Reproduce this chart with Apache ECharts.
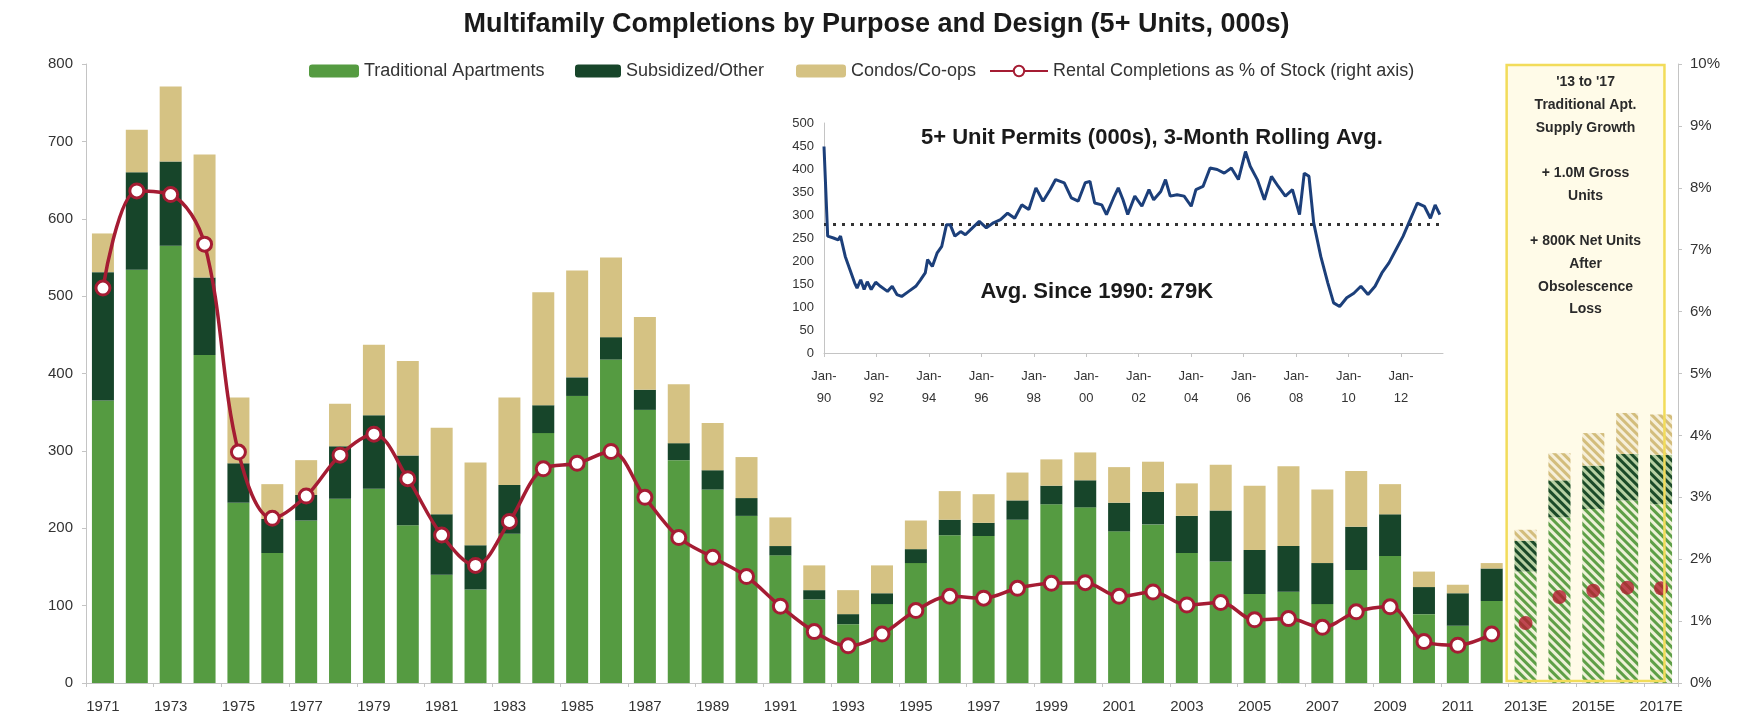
<!DOCTYPE html>
<html><head><meta charset="utf-8">
<script src="https://cdn.jsdelivr.net/npm/echarts@6/dist/echarts.min.js"></script>
<style>html,body{margin:0;padding:0;background:#fff}#c{width:1753px;height:727px}</style>
</head><body><div id="c"></div>
<script>
const years = ['1971','1972','1973','1974','1975','1976','1977','1978','1979','1980','1981','1982','1983','1984','1985','1986','1987','1988','1989','1990','1991','1992','1993','1994','1995','1996','1997','1998','1999','2000','2001','2002','2003','2004','2005','2006','2007','2008','2009','2010','2011','2012','2013E','2014E','2015E','2016E','2017E'];
const traditional = [365,534,565,424,233,168,210,238,251,204,140,121,193,323,371,418,353,288,250,216,165,108,76,102,155,191,190,211,231,227,196,205,168,157,115,118,102,146,164,89,74,106,144,214,225,236,231];
const subsidized = [166,126,109,100,51,44,33,68,95,90,78,57,63,36,24,29,26,22,25,23,12,12,13,14,18,20,17,25,24,35,37,42,48,66,57,59,53,56,54,35,42,42,40,48,56,60,64];
const condos = [50,55,97,159,85,45,45,55,91,122,112,107,113,146,138,103,94,76,61,53,37,32,31,36,37,37,37,36,34,36,46,39,42,59,83,103,95,72,39,20,11,7,14,35,42,53,52];
const rentalPct = [6.38,7.95,7.89,7.09,3.73,2.66,3.02,3.68,4.02,3.30,2.39,1.90,2.61,3.46,3.55,3.74,3.00,2.35,2.03,1.72,1.24,0.83,0.60,0.79,1.17,1.40,1.37,1.53,1.61,1.62,1.40,1.47,1.26,1.30,1.02,1.04,0.90,1.15,1.23,0.67,0.61,0.79];
const rentalPctEst = [0.97,1.39,1.49,1.54,1.53];
const leftTicks = [0,100,200,300,400,500,600,700,800];
const rightTicks = [0,1,2,3,4,5,6,7,8,9,10];
const permitYears = [1990.00,1990.14,1990.36,1990.54,1990.63,1990.81,1990.99,1991.17,1991.26,1991.40,1991.53,1991.65,1991.80,1991.97,1992.15,1992.42,1992.60,1992.78,1992.96,1993.23,1993.50,1993.68,1993.86,1993.95,1994.13,1994.31,1994.49,1994.67,1994.81,1994.99,1995.21,1995.39,1995.66,1995.92,1996.19,1996.46,1996.73,1997.00,1997.27,1997.54,1997.81,1998.08,1998.35,1998.62,1998.83,1999.16,1999.43,1999.69,1999.96,2000.14,2000.32,2000.59,2000.77,2001.04,2001.22,2001.40,2001.58,2001.85,2002.12,2002.39,2002.57,2002.84,2003.02,2003.20,2003.46,2003.73,2004.00,2004.18,2004.45,2004.72,2004.99,2005.26,2005.53,2005.80,2006.07,2006.25,2006.52,2006.79,2007.06,2007.32,2007.59,2007.86,2008.13,2008.31,2008.49,2008.67,2008.94,2009.21,2009.43,2009.66,2009.93,2010.20,2010.47,2010.74,2011.01,2011.27,2011.54,2011.81,2012.08,2012.35,2012.62,2012.89,2013.12,2013.30,2013.48];
const permitValues = [449,254,250,246,254,210,181,152,141,159,138,155,138,154,145,134,145,127,123,134,145,159,174,203,188,217,232,279,279,254,264,257,272,286,272,283,290,304,293,322,312,359,330,355,377,370,337,330,370,373,326,322,301,337,359,333,301,341,319,355,333,351,377,341,344,341,319,355,362,402,399,391,402,377,438,406,377,333,384,362,341,355,301,391,384,283,210,152,109,101,120,130,145,127,145,174,196,225,254,290,326,319,293,322,301];
const permitAvg = 279;
const boxLines = ["'13 to '17","Traditional Apt.","Supply Growth","","+ 1.0M Gross","Units","","+ 800K Net Units","After","Obsolescence","Loss"];

const nAct = rentalPct.length;
const FONT = '"Liberation Sans", Arial, sans-serif';
function decal(stripe){return {symbol:'rect',symbolSize:1,dashArrayX:[1,0],dashArrayY:[3,3],rotation:Math.PI/4,color:stripe};}
function stackData(arr, base, stripe){
  return arr.map((v,i)=> i<nAct ? v : {value:v,itemStyle:{color:base,decal:decal(stripe)}});
}
const lineData = years.map((y,i)=> i<nAct ? rentalPct[i] : null);
const estData = years.map((y,i)=> i<nAct ? null : rentalPctEst[i-nAct]);
const permitData = permitYears.map((y,i)=>[y,permitValues[i]]);

const axisCol = '#c4c4c4', txt = '#333333';
const chart = echarts.init(document.getElementById('c'));
const lg = {fontSize:18,color:txt};
const option = {
  backgroundColor:'#fff',
  animation:false,
  textStyle:{fontFamily:FONT},
  title:{text:'Multifamily Completions by Purpose and Design (5+ Units, 000s)',left:'center',top:6,
    textStyle:{fontSize:27,fontWeight:'bold',color:'#1a1a1a',fontFamily:FONT}},
  legend:[
    {data:['Traditional Apartments'],left:304,top:57,itemWidth:50,itemHeight:13,textStyle:lg},
    {data:['Subsidized/Other'],left:570,top:57,itemWidth:46,itemHeight:13,textStyle:lg},
    {data:['Condos/Co-ops'],left:791,top:57,itemWidth:50,itemHeight:13,textStyle:lg},
    {data:['Rental Completions as % of Stock (right axis)'],left:984,top:57,itemWidth:58,itemHeight:13,textStyle:lg}
  ],
  grid:[
    {left:86,right:75,top:64,bottom:44},
    {left:824,top:123,width:619,height:230}
  ],
  xAxis:[
    {type:'category',gridIndex:0,data:years,axisLine:{lineStyle:{color:axisCol}},
      axisTick:{show:true,length:4,lineStyle:{color:axisCol}},
      axisLabel:{interval:1,fontSize:15,color:txt,margin:16}},
    {type:'value',gridIndex:1,min:1990,max:2013.6,interval:2,splitLine:{show:false},
      axisLine:{show:true,lineStyle:{color:axisCol}},axisTick:{show:true,length:4,lineStyle:{color:axisCol}},
      axisLabel:{fontSize:13,color:txt,margin:12,lineHeight:22,showMaxLabel:false,
        formatter:v=> (Math.abs(v-Math.round(v))<1e-6 && Math.round(v)%2===0) ? 'Jan-\n'+String(Math.round(v)).slice(2) : ''}}
  ],
  yAxis:[
    {type:'value',gridIndex:0,min:leftTicks[0],max:leftTicks[leftTicks.length-1],interval:100,splitLine:{show:false},
      axisLine:{show:true,lineStyle:{color:axisCol}},axisTick:{show:true,length:4,lineStyle:{color:axisCol}},
      axisLabel:{fontSize:15,color:txt,margin:13}},
    {type:'value',gridIndex:0,position:'right',min:rightTicks[0],max:rightTicks[rightTicks.length-1],interval:1,splitLine:{show:false},
      axisLine:{show:true,lineStyle:{color:axisCol}},axisTick:{show:true,length:4,lineStyle:{color:axisCol}},
      axisLabel:{fontSize:15,color:txt,margin:12,formatter:'{value}%'}},
    {type:'value',gridIndex:1,min:0,max:500,interval:50,splitLine:{show:false},
      axisLine:{show:true,lineStyle:{color:axisCol}},axisTick:{show:false},
      axisLabel:{fontSize:13,color:txt,margin:10}}
  ],
  series:[
    {name:'Traditional Apartments',type:'bar',stack:'a',xAxisIndex:0,yAxisIndex:0,barWidth:22,
      itemStyle:{color:'#559b41'},data:stackData(traditional,'#eef1d8','#5e9f47'),z:2},
    {name:'Subsidized/Other',type:'bar',stack:'a',xAxisIndex:0,yAxisIndex:0,barWidth:22,
      itemStyle:{color:'#17452a'},data:stackData(subsidized,'#b7d0a3','#1b4a28'),z:2},
    {name:'Condos/Co-ops',type:'bar',stack:'a',xAxisIndex:0,yAxisIndex:0,barWidth:22,
      itemStyle:{color:'#d5c283'},data:stackData(condos,'#f6efd9','#d3bd7c'),z:2},
    {name:'Rental Completions as % of Stock (right axis)',type:'line',xAxisIndex:0,yAxisIndex:1,
      data:lineData,smooth:0.35,connectNulls:false,symbol:'circle',symbolSize:14,
      lineStyle:{color:'#a51c33',width:3.5},
      itemStyle:{color:'#fff',borderColor:'#a51c33',borderWidth:3},z:5},
    {name:'Rental Est',type:'scatter',xAxisIndex:0,yAxisIndex:1,data:estData,symbol:'circle',symbolSize:14,
      itemStyle:{color:'#b31d2f'},z:5},
    {name:'Permits',type:'line',xAxisIndex:1,yAxisIndex:2,data:permitData,showSymbol:false,symbol:'none',
      lineStyle:{color:'#1c3f7a',width:3},z:6,
      markLine:{silent:true,symbol:'none',label:{show:false},lineStyle:{type:[3,6],color:'#333',width:3},
        data:[{yAxis:permitAvg}]}}
  ],
  graphic:[]
};
chart.setOption(option);

const c0 = chart.convertToPixel({xAxisIndex:0}, '2013E');
const c1 = chart.convertToPixel({xAxisIndex:0}, '2014E');
const c4 = chart.convertToPixel({xAxisIndex:0}, '2017E');
const band = c1 - c0;
const yTop = chart.convertToPixel({yAxisIndex:0}, 800);
const yBot = chart.convertToPixel({yAxisIndex:0}, 0);
const bx = c0 - band/2 - 2, bw = c4 + 0.1*band - bx, by = yTop + 1, bh = yBot - yTop - 3;
const gc = chart.convertToPixel({xAxisIndex:1,yAxisIndex:2},[2002.5,468]);
const ga = chart.convertToPixel({xAxisIndex:1,yAxisIndex:2},[2000.4,132]);
chart.setOption({graphic:[
  {type:'rect',z:0,shape:{x:bx,y:by,width:bw,height:bh},style:{fill:'#fffbe8'}},
  {type:'rect',z:100,shape:{x:bx,y:by,width:bw,height:bh},style:{fill:'none',stroke:'#f2dc5a',lineWidth:2.5}},
  {type:'text',z:101,x:bx+bw/2,y:by+6,style:{text:boxLines.join('\n'),font:'bold 14px '+FONT,align:'center',fill:'#2a2a2a',lineHeight:22.7}},
  {type:'text',z:101,x:gc[0],y:gc[1],style:{text:'5+ Unit Permits (000s), 3-Month Rolling Avg.',font:'bold 22px '+FONT,align:'center',verticalAlign:'middle',fill:'#1a1a1a'}},
  {type:'text',z:101,x:ga[0],y:ga[1],style:{text:'Avg. Since 1990: 279K',font:'bold 22px '+FONT,align:'center',verticalAlign:'middle',fill:'#1a1a1a'}}
]});
</script></body></html>
